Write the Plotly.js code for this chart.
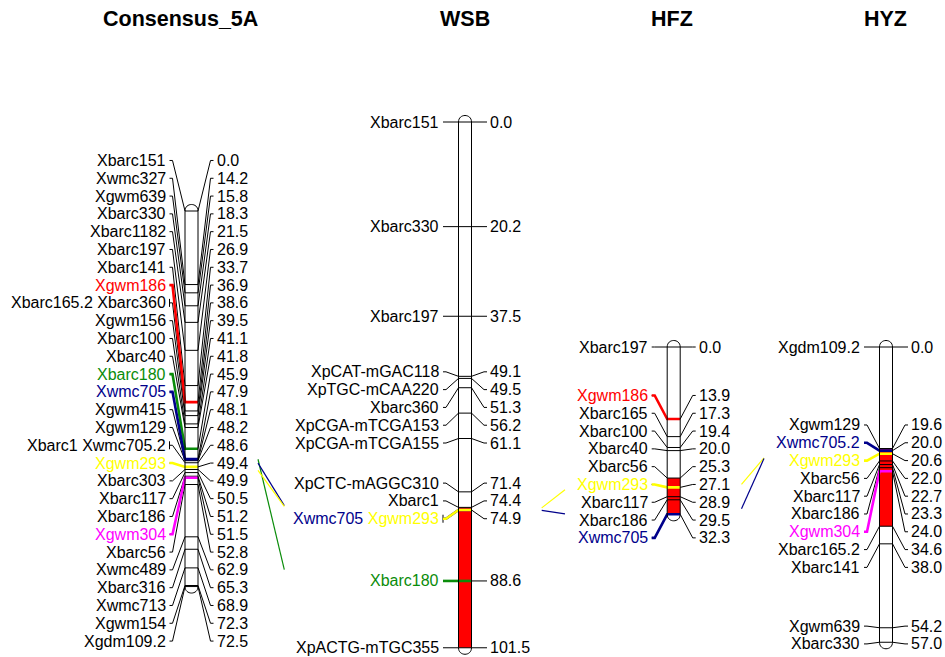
<!DOCTYPE html>
<html><head><meta charset="utf-8">
<script src="https://cdn.plot.ly/plotly-3.0.1.min.js"></script>
<style>html,body{margin:0;padding:0;background:#fff}#chart{width:945px;height:657px}</style>
</head><body><div id="chart"></div>
<script>
// ---------------- DATA ----------------
const chromTitles = ['Consensus_5A', 'WSB', 'HFZ', 'HYZ'];

const consMarkers = ['Xbarc151','Xwmc327','Xgwm639','Xbarc330','Xbarc1182','Xbarc197','Xbarc141','Xgwm186',
  'Xbarc165.2','Xbarc360','Xgwm156','Xbarc100','Xbarc40','Xbarc180','Xwmc705','Xgwm415','Xgwm129',
  'Xbarc1','Xwmc705.2','Xgwm293','Xbarc303','Xbarc117','Xbarc186','Xgwm304','Xbarc56','Xwmc489',
  'Xbarc316','Xwmc713','Xgwm154','Xgdm109.2'];
const consPos = [0.0,14.2,15.8,18.3,21.5,26.9,33.7,36.9,
  38.6,38.6,39.5,41.1,41.8,45.9,47.9,48.1,48.2,
  48.6,48.6,49.4,49.9,50.5,51.2,51.5,52.8,62.9,
  65.3,68.9,72.3,72.5];

const wsbMarkers = ['Xbarc151','Xbarc330','Xbarc197','XpCAT-mGAC118','XpTGC-mCAA220','Xbarc360',
  'XpCGA-mTCGA153','XpCGA-mTCGA155','XpCTC-mAGGC310','Xbarc1','Xwmc705','Xgwm293','Xbarc180','XpACTG-mTGC355'];
const wsbPos = [0.0,20.2,37.5,49.1,49.5,51.3,56.2,61.1,71.4,74.4,74.9,74.9,88.6,101.5];

const hfzMarkers = ['Xbarc197','Xgwm186','Xbarc165','Xbarc100','Xbarc40','Xbarc56','Xgwm293','Xbarc117','Xbarc186','Xwmc705'];
const hfzPos = [0.0,13.9,17.3,19.4,20.0,25.3,27.1,28.9,29.5,32.3];

const hyzMarkers = ['Xgdm109.2','Xgwm129','Xwmc705.2','Xgwm293','Xbarc56','Xbarc117','Xbarc186','Xgwm304',
  'Xbarc165.2','Xbarc141','Xgwm639','Xbarc330'];
const hyzPos = [0.0,19.6,20.0,20.6,22.0,22.7,23.3,24.0,34.6,38.0,54.2,57.0];

// QTL intervals (cM) [start, end]
const wsbQTL = [74.4, 101.5];
const hfzQTL = [25.3, 32.3];
const hyzQTL = [19.6, 34.6];

// highlighted markers per map
const consHighlight = ['Xgwm186','Xbarc180','Xwmc705','Xgwm293','Xgwm304'];
const wsbHighlight = ['Xwmc705','Xgwm293','Xbarc180'];
const hfzHighlight = ['Xgwm186','Xgwm293','Xwmc705'];
const hyzHighlight = ['Xwmc705.2','Xgwm293','Xgwm304'];

// links between adjacent maps
const linkFrom = [0,0,0,1,1,2,2];
const linkTo   = [1,1,1,2,2,3,3];
const linkMarkerA = ['Xbarc180','Xwmc705','Xgwm293','Xgwm293','Xwmc705','Xgwm293','Xwmc705'];
const linkMarkerB = ['Xbarc180','Xwmc705','Xgwm293','Xgwm293','Xwmc705','Xgwm293','Xwmc705.2'];

// ---------------- STYLE / LAYOUT ----------------
const COLORS = {
  'Xgwm186':'#FF0000','Xbarc180':'#0a8c0a','Xwmc705':'#00008B','Xwmc705.2':'#00008B',
  'Xgwm293':'#FFFF00','Xgwm304':'#FF00FF'
};
const S = 5.18;          // px per cM
const HW = 6.5;          // half width of chromosome bar (px)
const FONT = 'Liberation Sans, Arial, sans-serif';
const LABEL_SIZE = 16;
const SPACING = 17.8 / S;
const CAP = 6.5 / S;

const maps = [
  {title:chromTitles[0], cx:191.5, topPx:211, titleX:180, labelShift:2, names:consMarkers, pos:consPos, qtl:null, hl:consHighlight},
  {title:chromTitles[1], cx:465,   topPx:122, titleX:465, labelShift:0, names:wsbMarkers,  pos:wsbPos,  qtl:wsbQTL, hl:wsbHighlight},
  {title:chromTitles[2], cx:673.7, topPx:347, titleX:672, labelShift:0, names:hfzMarkers,  pos:hfzPos,  qtl:hfzQTL, hl:hfzHighlight},
  {title:chromTitles[3], cx:886,   topPx:347, titleX:885, labelShift:0, names:hyzMarkers,  pos:hyzPos,  qtl:hyzQTL, hl:hyzHighlight}
];
// visible gap segment and the full virtual line extent for links
const gapX = [[258, 284.3], [541.7, 565], [741.5, 764]];
const gapFull = [[255.5, 287], [539, 568], [739, 767.5]];

// labels: clusters of overlapping labels are evenly spaced, centred on the cluster's mid-range
function placeLabels(ys, m) {
  let clusters = ys.map((y, i) => ({lo:i, hi:i}));
  const ext = c => {
    const center = (ys[c.lo] + ys[c.hi]) / 2, n = c.hi - c.lo + 1;
    return {first:center - (n-1)*m/2, last:center + (n-1)*m/2};
  };
  let merged = true;
  while (merged) {
    merged = false;
    for (let i = 0; i < clusters.length - 1; i++) {
      const a = ext(clusters[i]), b = ext(clusters[i+1]);
      if (a.last + m > b.first + 1e-9) {
        clusters[i] = {lo:clusters[i].lo, hi:clusters[i+1].hi};
        clusters.splice(i+1, 1);
        merged = true;
        break;
      }
    }
  }
  const out = [];
  clusters.forEach(c => { const e = ext(c); for (let i = c.lo; i <= c.hi; i++) out[i] = e.first + (i - c.lo) * m; });
  return out;
}

function groupMarkers(names, pos) {
  const g = [];
  names.forEach((nm, i) => {
    const last = g[g.length - 1];
    if (last && last.pos === pos[i]) last.names.push(nm);
    else g.push({pos: pos[i], names: [nm]});
  });
  return g;
}

const shapes = [];
const annotations = [];
const P = (x, y) => x.toFixed(2) + ',' + y.toFixed(4);

maps.forEach(m => {
  const top = m.topPx / S;
  m.yOf = cm => top + cm;
  const cx = m.cx;
  const y0 = m.yOf(m.pos[0]);
  const y1 = m.yOf(m.pos[m.pos.length - 1]);
  const k = CAP * 4 / 3;
  const outline = 'M ' + P(cx-HW, y0) + ' L ' + P(cx-HW, y1) +
    ' C ' + P(cx-HW, y1+k) + ' ' + P(cx+HW, y1+k) + ' ' + P(cx+HW, y1) +
    ' L ' + P(cx+HW, y0) +
    ' C ' + P(cx+HW, y0-k) + ' ' + P(cx-HW, y0-k) + ' ' + P(cx-HW, y0) + ' Z';
  shapes.push({type:'path', xref:'x', yref:'y', path:outline, fillcolor:'#ffffff', line:{width:0}, layer:'above'});
  if (m.qtl) {
    shapes.push({type:'rect', xref:'x', yref:'y', x0:cx-HW, x1:cx+HW, y0:m.yOf(m.qtl[0]), y1:m.yOf(m.qtl[1]),
      fillcolor:'#FF0000', line:{width:0}, layer:'above'});
  }
  const groups = groupMarkers(m.names, m.pos);
  const labY = placeLabels(groups.map(g => m.yOf(g.pos)), SPACING).map(v => v + m.labelShift / S);
  const colored = [];
  groups.forEach((g, i) => {
    const my = m.yOf(g.pos), ly = labY[i];
    const leftPath = 'M ' + P(cx-22, ly) + ' L ' + P(cx-19, ly) + ' L ' + P(cx-HW, my) + ' L ' + P(cx+HW, my);
    const rightPath = 'M ' + P(cx+HW, my) + ' L ' + P(cx+19, ly) + ' L ' + P(cx+22, ly);
    shapes.push({type:'path', xref:'x', yref:'y', path:leftPath, line:{color:'#000', width:1}, layer:'above'});
    shapes.push({type:'path', xref:'x', yref:'y', path:rightPath, line:{color:'#000', width:1}, layer:'above'});
    if (g.names.length > 1) {
      shapes.push({type:'line', xref:'x', yref:'y', x0:cx-22, x1:cx-22, y0:ly-4/S, y1:ly+4/S, line:{color:'#000', width:1}, layer:'above'});
    }
    g.names.forEach(nm => { if (m.hl.includes(nm)) colored.push({path:leftPath, color:COLORS[nm]}); });
    const txt = g.names.map(nm => m.hl.includes(nm) ? '<span style="color:' + COLORS[nm] + '">' + nm + '</span>' : nm).join(' ');
    annotations.push({xref:'x', yref:'y', x:cx-25, y:ly, text:txt, showarrow:false, xanchor:'right', yanchor:'middle',
      font:{family:FONT, size:LABEL_SIZE, color:'#000'}, borderpad:0});
    annotations.push({xref:'x', yref:'y', x:cx+24, y:ly, text:g.pos.toFixed(1), showarrow:false, xanchor:'left', yanchor:'middle',
      font:{family:FONT, size:LABEL_SIZE, color:'#000'}, borderpad:0});
  });
  colored.forEach(c => shapes.push({type:'path', xref:'x', yref:'y', path:c.path, line:{color:c.color, width:2.6}, layer:'above'}));
  shapes.push({type:'path', xref:'x', yref:'y', path:outline, fillcolor:'rgba(0,0,0,0)', line:{color:'#000', width:1}, layer:'above'});
  annotations.push({xref:'x', yref:'y', x:m.titleX, y:19/S, text:'<b>' + m.title + '</b>', showarrow:false,
    xanchor:'center', yanchor:'middle', font:{family:FONT, size:21.5, color:'#000'}});
});

linkFrom.forEach((a, i) => {
  const b = linkTo[i];
  const A = maps[a], B = maps[b];
  const ya = A.yOf(A.pos[A.names.indexOf(linkMarkerA[i])]);
  const yb = B.yOf(B.pos[B.names.indexOf(linkMarkerB[i])]);
  const f = gapFull[a], v = gapX[a];
  const yAt = x => ya + (yb - ya) * (x - f[0]) / (f[1] - f[0]);
  shapes.push({type:'line', xref:'x', yref:'y', x0:v[0], x1:v[1], y0:yAt(v[0]), y1:yAt(v[1]),
    line:{color:COLORS[linkMarkerB[i]] || COLORS[linkMarkerA[i]], width:1.2}, layer:'above'});
});

const layout = {
  width:945, height:657, margin:{l:0, r:0, t:0, b:0},
  paper_bgcolor:'#ffffff', plot_bgcolor:'#ffffff', showlegend:false,
  font:{family:FONT, color:'#000'},
  xaxis:{range:[0, 945], visible:false, fixedrange:true},
  yaxis:{range:[657 / S, 0], visible:false, fixedrange:true},
  shapes:shapes, annotations:annotations
};
Plotly.newPlot('chart', [{x:[], y:[], type:'scatter', mode:'markers', hoverinfo:'skip'}], layout, {staticPlot:true, displayModeBar:false});
</script></body></html>
